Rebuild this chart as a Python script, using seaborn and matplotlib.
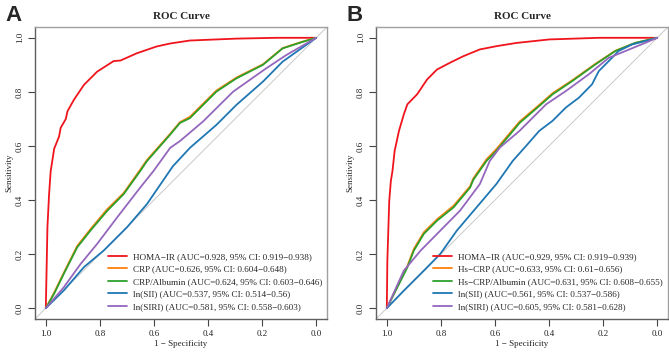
import numpy as np
import pandas as pd
import matplotlib
matplotlib.use('Agg')
from matplotlib import pyplot as plt
import seaborn as sns

# ---- data (false positive rate f = 1 - specificity) ----
# panel A
a_homa_f = [0, 0.002, 0.004, 0.006, 0.012, 0.018, 0.031, 0.049, 0.055, 0.074, 0.08, 0.104, 0.141, 0.19,
            0.251, 0.276, 0.337, 0.41, 0.46, 0.533, 0.705, 0.85, 1.0]
a_homa_s = [0, 0.1, 0.2, 0.3, 0.42, 0.507, 0.59, 0.635, 0.667, 0.70, 0.728, 0.771, 0.826, 0.875,
            0.914, 0.916, 0.943, 0.968, 0.979, 0.99, 0.997, 1.0, 1.0]
a_crp_f = [0, 0.031, 0.067, 0.116, 0.165, 0.227, 0.288, 0.349, 0.374, 0.46, 0.496, 0.533, 0.631, 0.705,
           0.803, 0.876, 0.95, 1.0]
a_crp_s = [0, 0.058, 0.132, 0.230, 0.292, 0.366, 0.426, 0.512, 0.548, 0.645, 0.688, 0.708, 0.805, 0.853,
           0.902, 0.962, 0.986, 1.0]
a_alb_f = [0, 0.031, 0.067, 0.116, 0.165, 0.227, 0.288, 0.349, 0.374, 0.46, 0.496, 0.533, 0.631, 0.705,
           0.803, 0.876, 0.95, 1.0]
a_alb_s = [0, 0.054, 0.128, 0.225, 0.287, 0.36, 0.422, 0.507, 0.544, 0.642, 0.685, 0.703, 0.801, 0.85,
           0.9, 0.961, 0.985, 1.0]
a_sii_f = [0, 0.067, 0.141, 0.214, 0.30, 0.374, 0.47, 0.533, 0.631, 0.705, 0.803, 0.876, 0.962, 1.0]
a_sii_s = [0, 0.066, 0.152, 0.213, 0.299, 0.385, 0.525, 0.593, 0.678, 0.752, 0.838, 0.912, 0.973, 1.0]
a_siri_f = [0, 0.067, 0.129, 0.19, 0.264, 0.349, 0.398, 0.46, 0.496, 0.582, 0.693, 0.815, 0.889, 0.974, 1.0]
a_siri_s = [0, 0.078, 0.164, 0.238, 0.336, 0.446, 0.507, 0.593, 0.618, 0.691, 0.801, 0.887, 0.936, 0.985, 1.0]

# panel B
b_homa_f = [0, 0.002, 0.009, 0.015, 0.021, 0.029, 0.045, 0.063, 0.076, 0.112, 0.149, 0.186, 0.234, 0.283,
            0.344, 0.405, 0.479, 0.601, 0.784, 1.0]
b_homa_s = [0, 0.176, 0.397, 0.471, 0.508, 0.582, 0.656, 0.717, 0.754, 0.791, 0.846, 0.883, 0.908, 0.932,
            0.957, 0.969, 0.981, 0.994, 1.0, 1.0]
b_crp_f = [0, 0.039, 0.076, 0.1, 0.137, 0.186, 0.247, 0.308, 0.32, 0.369, 0.405, 0.491, 0.564, 0.613,
           0.686, 0.772, 0.845, 0.918, 1.0]
b_crp_s = [0, 0.081, 0.156, 0.219, 0.281, 0.329, 0.379, 0.451, 0.48, 0.551, 0.588, 0.69, 0.752, 0.795,
           0.843, 0.904, 0.952, 0.981, 1.0]
b_alb_f = [0, 0.039, 0.076, 0.1, 0.137, 0.186, 0.247, 0.308, 0.32, 0.369, 0.405, 0.491, 0.564, 0.613,
           0.686, 0.772, 0.845, 0.918, 1.0]
b_alb_s = [0, 0.077, 0.151, 0.213, 0.275, 0.324, 0.373, 0.446, 0.475, 0.545, 0.582, 0.685, 0.748, 0.791,
           0.84, 0.902, 0.951, 0.981, 1.0]
b_sii_f = [0, 0.063, 0.137, 0.198, 0.259, 0.332, 0.405, 0.466, 0.515, 0.564, 0.613, 0.662, 0.711, 0.759,
           0.784, 0.821, 0.857, 0.906, 0.979, 1.0]
b_sii_s = [0, 0.065, 0.139, 0.201, 0.287, 0.373, 0.459, 0.545, 0.6, 0.656, 0.693, 0.742, 0.779, 0.828,
           0.877, 0.914, 0.951, 0.975, 0.994, 1.0]
b_siri_f = [0, 0.063, 0.125, 0.186, 0.271, 0.344, 0.381, 0.418, 0.491, 0.515, 0.589, 0.662, 0.747, 0.821,
            0.882, 0.955, 1.0]
b_siri_s = [0, 0.139, 0.213, 0.275, 0.361, 0.459, 0.545, 0.594, 0.656, 0.68, 0.754, 0.803, 0.865, 0.926,
            0.951, 0.981, 1.0]

labels_a = ['HOMA\u2212IR (AUC=0.928, 95% CI: 0.919\u22120.938)',
            'CRP (AUC=0.626, 95% CI: 0.604\u22120.648)',
            'CRP/Albumin (AUC=0.624, 95% CI: 0.603\u22120.646)',
            'ln(SII) (AUC=0.537, 95% CI: 0.514\u22120.56)',
            'ln(SIRI) (AUC=0.581, 95% CI: 0.558\u22120.603)']
labels_b = ['HOMA\u2212IR (AUC=0.929, 95% CI: 0.919\u22120.939)',
            'Hs\u2212CRP (AUC=0.633, 95% CI: 0.61\u22120.656)',
            'Hs\u2212CRP/Albumin (AUC=0.631, 95% CI: 0.608\u22120.655)',
            'ln(SII) (AUC=0.561, 95% CI: 0.537\u22120.586)',
            'ln(SIRI) (AUC=0.605, 95% CI: 0.581\u22120.628)']
colors = ['#F0141C', '#FF7F0E', '#2CA02C', '#1F77B4', '#9467BD']

curves_a = [(a_homa_f, a_homa_s), (a_crp_f, a_crp_s), (a_alb_f, a_alb_s), (a_sii_f, a_sii_s), (a_siri_f, a_siri_s)]
curves_b = [(b_homa_f, b_homa_s), (b_crp_f, b_crp_s), (b_alb_f, b_alb_s), (b_sii_f, b_sii_s), (b_siri_f, b_siri_s)]

sns.set_theme(style='white')
plt.rcParams['font.family'] = ['Liberation Serif', 'DejaVu Serif']
plt.rcParams['axes.unicode_minus'] = True


def make_df(curves, labels):
    parts = []
    for (f, s), lab in zip(curves, labels):
        parts.append(pd.DataFrame({'spec': 1 - np.array(f), 'sens': s, 'curve': lab}))
    return pd.concat(parts, ignore_index=True)


fig = plt.figure(figsize=(6.69, 3.55), dpi=100)
ax_a = fig.add_axes([35 / 669, 36 / 355, 292 / 669, 292 / 355])
ax_b = fig.add_axes([376 / 669, 36 / 355, 292 / 669, 292 / 355])

for ax, curves, labels, leg_x, letter in [(ax_a, curves_a, labels_a, 0.237, 'A'),
                                           (ax_b, curves_b, labels_b, 0.183, 'B')]:
    df = make_df(curves, labels)
    ax.axline((1, 0), (0, 1), color='#C8C8C8', lw=0.7, zorder=1)
    sns.lineplot(data=df, x='spec', y='sens', hue='curve', hue_order=labels,
                 palette=dict(zip(labels, colors)), sort=False, estimator=None,
                 lw=1.3, ax=ax, zorder=2)
    ax.set_xlim(1.04, -0.04)
    ax.set_ylim(-0.04, 1.04)
    ticks = [1.0, 0.8, 0.6, 0.4, 0.2, 0.0]
    ax.set_xticks(ticks)
    ax.set_xticklabels([f'{t:.1f}' for t in ticks])
    ax.set_yticks(ticks)
    ax.set_yticklabels([f'{t:.1f}' for t in ticks], rotation=90, va='center')
    ax.tick_params(direction='out', length=5, width=0.8, color='#444444', labelsize=6.5,
                   pad=3, left=True, bottom=True, labelcolor='#222222')
    for side in ['top', 'right']:
        ax.spines[side].set_color('#A0A0A0')
    for side in ['left', 'bottom']:
        ax.spines[side].set_color('#606060')
    for sp in ax.spines.values():
        sp.set_linewidth(1.0)
    ax.set_xlabel('1 \u2212 Specificity', fontsize=6.5, labelpad=1)
    ax.set_ylabel('Sensitivity', fontsize=6.5, labelpad=2)
    ax.set_title('ROC Curve', fontsize=8, fontweight='bold', pad=6)
    handles, labs = ax.get_legend_handles_labels()
    ax.legend(handles, labs, loc='lower left', bbox_to_anchor=(leg_x, 0.015), frameon=False,
              fontsize=6.6, handlelength=2.1, handletextpad=0.6, labelspacing=0.45,
              borderaxespad=0)
    pos = ax.get_position()
    fig.text(pos.x0 - 30 / 669, 0.985, letter, fontfamily='Liberation Sans', fontweight='bold',
             fontsize=16, va='top', ha='left')

plt.savefig('out.png', dpi=100)
